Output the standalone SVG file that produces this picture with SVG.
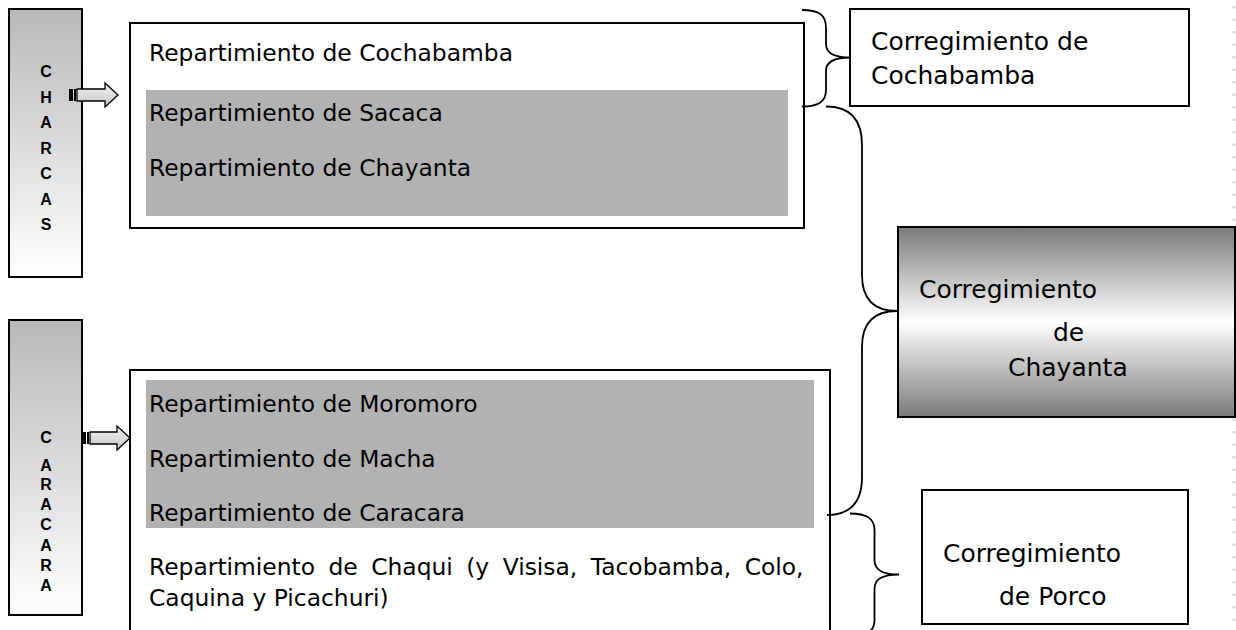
<svg xmlns="http://www.w3.org/2000/svg" width="1236" height="630" viewBox="0 0 1236 630">
  <defs>
    <linearGradient id="gSide" x1="0" y1="0" x2="0" y2="1">
      <stop offset="0" stop-color="#b8b8b8"/>
      <stop offset="1" stop-color="#ffffff"/>
    </linearGradient>
    <linearGradient id="gChay" x1="0" y1="0" x2="0" y2="1">
      <stop offset="0" stop-color="#7a7a7a"/>
      <stop offset="0.5" stop-color="#ffffff"/>
      <stop offset="1" stop-color="#7a7a7a"/>
    </linearGradient>
    <linearGradient id="gArrow" x1="0" y1="0" x2="0" y2="1">
      <stop offset="0" stop-color="#f4f4f4"/>
      <stop offset="1" stop-color="#c4c4c4"/>
    </linearGradient>
    <style>
      .box { fill: #ffffff; stroke: #000; stroke-width: 2; }
      .side { fill: url(#gSide); stroke: #000; stroke-width: 2; }
      .gray { fill: #b2b2b2; }
      .t { font-family: "DejaVu Sans", "Liberation Sans", sans-serif; font-size: 23.4px; fill: #000; }
      .tr { font-family: "DejaVu Sans", "Liberation Sans", sans-serif; font-size: 25px; fill: #000; }
      .v { font-family: "Liberation Sans", Arial, sans-serif; font-size: 16px; font-weight: bold; fill: #000; text-anchor: middle; }
      .brace { fill: none; stroke: #000; stroke-width: 1.8; }
      .arrow { fill: url(#gArrow); stroke: #000; stroke-width: 1.3; }
    </style>
  </defs>

  <rect width="1236" height="630" fill="#ffffff"/>
  <line x1="1234" y1="6" x2="1234" y2="630" stroke="#e2e2e2" stroke-width="4" stroke-dasharray="2.5 10"/>

  <g id="charcas">
    <rect class="side" x="9" y="9" width="73" height="268"/>
    <text class="v" x="46" y="77">C</text>
    <text class="v" x="46" y="103">H</text>
    <text class="v" x="46" y="128">A</text>
    <text class="v" x="46" y="154">R</text>
    <text class="v" x="46" y="179">C</text>
    <text class="v" x="46" y="205">A</text>
    <text class="v" x="46" y="230">S</text>
  </g>

  <g id="caracara">
    <rect class="side" x="9" y="320" width="73" height="295"/>
    <text class="v" x="46" y="443">C</text>
    <text class="v" x="46" y="471">A</text>
    <text class="v" x="46" y="490">R</text>
    <text class="v" x="46" y="510">A</text>
    <text class="v" x="46" y="530">C</text>
    <text class="v" x="46" y="551">A</text>
    <text class="v" x="46" y="571">R</text>
    <text class="v" x="46" y="591">A</text>
  </g>

  <g id="top-repartimientos">
    <rect class="box" x="130" y="23" width="674" height="205"/>
    <rect class="gray" x="146" y="90" width="642" height="126"/>
    <text class="t" x="149" y="61">Repartimiento de Cochabamba</text>
    <text class="t" x="149" y="121">Repartimiento de Sacaca</text>
    <text class="t" x="149" y="176">Repartimiento de Chayanta</text>
  </g>

  <g id="bottom-repartimientos">
    <rect class="box" x="130" y="370" width="700" height="270"/>
    <rect class="gray" x="146" y="380" width="668" height="148"/>
    <text class="t" x="149" y="412">Repartimiento de Moromoro</text>
    <text class="t" x="149" y="467">Repartimiento de Macha</text>
    <text class="t" x="149" y="521">Repartimiento de Caracara</text>
    <text class="t" x="149" y="575" word-spacing="6">Repartimiento de Chaqui (y Visisa, Tacobamba, Colo,</text>
    <text class="t" x="149" y="606">Caquina y Picachuri)</text>
  </g>

  <g id="corr-cochabamba">
    <rect class="box" x="850" y="9" width="339" height="97"/>
    <text class="tr" x="871" y="50">Corregimiento de</text>
    <text class="tr" x="871" y="84">Cochabamba</text>
  </g>

  <g id="corr-chayanta">
    <rect x="898" y="227" width="337" height="190" fill="url(#gChay)" stroke="#000" stroke-width="2"/>
    <text class="tr" x="919" y="298">Corregimiento</text>
    <text class="tr" x="1053" y="341">de</text>
    <text class="tr" x="1008" y="376">Chayanta</text>
  </g>

  <g id="corr-porco">
    <rect class="box" x="922" y="490" width="266" height="134"/>
    <text class="tr" x="943" y="562">Corregimiento</text>
    <text class="tr" x="999" y="605">de Porco</text>
  </g>

  <g id="connectors">
    <g id="arrow-charcas">
      <rect x="69" y="89" width="4" height="12" fill="#000"/>
      <rect x="74" y="89" width="2" height="12" fill="#000"/>
      <path class="arrow" d="M77,89 L105,89 L105,83 L118,95 L105,107 L105,101 L77,101 Z"/>
    </g>
    <g id="arrow-caracara">
      <rect x="82" y="432" width="4" height="12" fill="#000"/>
      <rect x="87" y="432" width="2" height="12" fill="#000"/>
      <path class="arrow" d="M90,432 L117,432 L117,426 L130,438 L117,450 L117,444 L90,444 Z"/>
    </g>
    <path class="brace" d="M802,10 C818,10 826,14 826,28 L826,44 C826,53 834,57.5 850,57.5 C834,57.5 826,62 826,71 L826,90 C826,102 818,106.5 802,106.5"/>
    <path class="brace" d="M826,106.5 C850,106.5 862,120 862,145 L862,275 C862,300 875,311 897,311 C875,311 862,322 862,347 L862,477 C862,502 850,515 827,515"/>
    <path class="brace" d="M850,513.5 C866,513.5 874.5,518 874.5,530 L874.5,560 C874.5,570 882,574.5 899,574.5 C882,574.5 874.5,579 874.5,589 L874.5,620 C874.5,632 866,636 850,636"/>
  </g>
</svg>
